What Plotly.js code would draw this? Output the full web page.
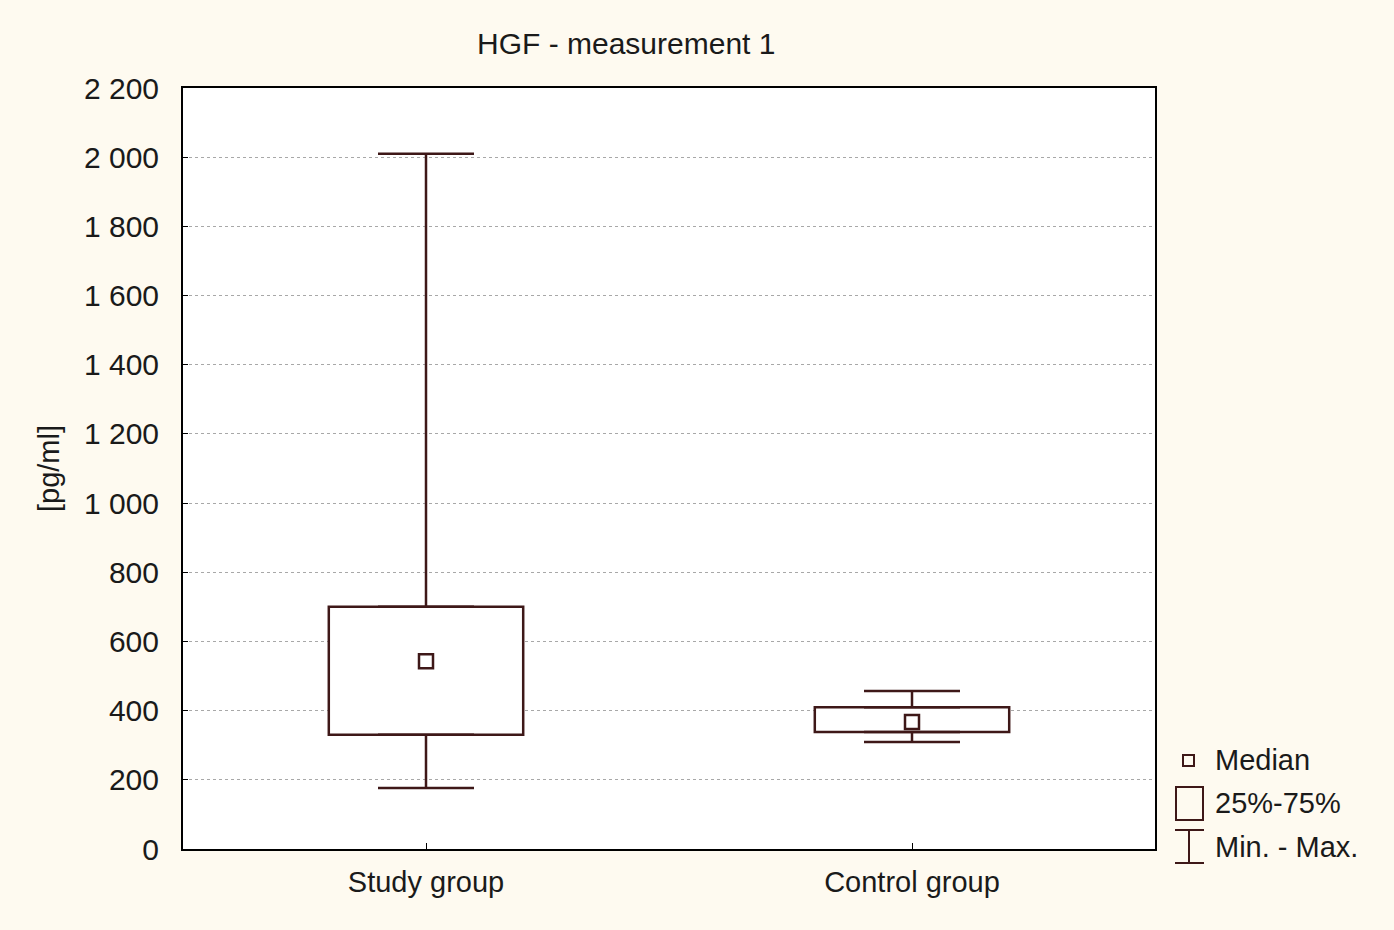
<!DOCTYPE html>
<html>
<head>
<meta charset="utf-8">
<script src="https://cdn.plot.ly/plotly-3.0.1.min.js"></script>
<style>html,body{margin:0;padding:0;background:#fefaf0;}#chart{width:1394px;height:930px;}</style>
</head>
<body>
<div id="chart"></div>
<script>
const categories = ["Study group", "Control group"];
const minValues = [176, 309];
const q1Values = [330, 338];
const medianValues = [543, 367];
const q3Values = [700, 410];
const maxValues = [2010, 457];

const boxColor = "#3e1818";
const fontFam = "Liberation Sans, Arial, sans-serif";

const boxTrace = {
  type: "bar",
  x: categories,
  base: q1Values,
  y: q3Values.map((v, i) => v - q1Values[i]),
  width: 0.4,
  marker: {color: "#ffffff", line: {color: boxColor, width: 2.5}},
  showlegend: false,
  hoverinfo: "skip"
};
const upperWhisker = {
  type: "scatter", mode: "markers",
  x: categories, y: q3Values,
  marker: {size: 1, color: "rgba(0,0,0,0)"},
  error_y: {type: "data", symmetric: false,
    array: maxValues.map((v, i) => v - q3Values[i]),
    arrayminus: q3Values.map(() => 0),
    color: boxColor, thickness: 2.5, width: 48},
  showlegend: false, hoverinfo: "skip"
};
const lowerWhisker = {
  type: "scatter", mode: "markers",
  x: categories, y: q1Values,
  marker: {size: 1, color: "rgba(0,0,0,0)"},
  error_y: {type: "data", symmetric: false,
    array: q1Values.map(() => 0),
    arrayminus: q1Values.map((v, i) => v - minValues[i]),
    color: boxColor, thickness: 2.5, width: 48},
  showlegend: false, hoverinfo: "skip"
};
const medianTrace = {
  type: "scatter", mode: "markers",
  x: categories, y: medianValues,
  marker: {symbol: "square", size: 14, color: "#ffffff", line: {color: boxColor, width: 2.5}},
  showlegend: false, hoverinfo: "skip"
};

function py(pix) { return (849 - pix) / 761; }
function px(pix) { return (pix - 183) / 972; }

const shapes = [
  {type: "rect", xref: "paper", yref: "paper", x0: px(1183), x1: px(1194), y0: py(766), y1: py(755), line: {color: boxColor, width: 2}, fillcolor: "#fefaf0"},
  {type: "rect", xref: "paper", yref: "paper", x0: px(1176), x1: px(1203), y0: py(820), y1: py(787), line: {color: boxColor, width: 2}, fillcolor: "#fefaf0"},
  {type: "line", xref: "paper", yref: "paper", x0: px(1189), x1: px(1189), y0: py(863), y1: py(830), line: {color: boxColor, width: 2}},
  {type: "line", xref: "paper", yref: "paper", x0: px(1175), x1: px(1204), y0: py(830), y1: py(830), line: {color: boxColor, width: 2}},
  {type: "line", xref: "paper", yref: "paper", x0: px(1175), x1: px(1204), y0: py(863), y1: py(863), line: {color: boxColor, width: 2}}
];
const legendTexts = [["Median", 760], ["25%-75%", 803], ["Min. - Max.", 847]];
const annotations = legendTexts.map(([t, y]) => ({
  text: t, xref: "paper", yref: "paper", x: px(1213), y: py(y),
  xanchor: "left", yanchor: "middle", showarrow: false,
  font: {family: fontFam, size: 29, color: "#1a1a1a"}
}));

const layout = {
  width: 1394, height: 930,
  margin: {l: 183, r: 239, t: 88, b: 81},
  paper_bgcolor: "#fefaf0",
  plot_bgcolor: "#ffffff",
  separators: ". ",
  font: {family: fontFam, size: 29, color: "#1a1a1a"},
  title: {text: "HGF - measurement 1", x: 0.456, xanchor: "center", xref: "paper", y: 0.953, yanchor: "middle", font: {family: fontFam, size: 30, color: "#1a1a1a"}},
  xaxis: {
    type: "category", range: [-0.5, 1.5],
    showline: true, linecolor: "#000", linewidth: 2, mirror: true,
    ticks: "inside", ticklen: 6, tickcolor: "#000", tickwidth: 1,
    showgrid: false, ticklabelstandoff: 6,
    tickfont: {family: fontFam, size: 29, color: "#1a1a1a"}
  },
  yaxis: {
    range: [0, 2200], dtick: 200, tick0: 0, separatethousands: true,
    showline: true, linecolor: "#000", linewidth: 2, mirror: true,
    ticks: "inside", ticklen: 5, tickcolor: "#000", tickwidth: 1,
    showgrid: true, gridcolor: "#a8a8a8", griddash: "dot", gridwidth: 1,
    zeroline: false, ticklabelstandoff: 16,
    tickfont: {family: fontFam, size: 30, color: "#1a1a1a"},
    title: {text: "[pg/ml]", standoff: 16, font: {family: fontFam, size: 29, color: "#1a1a1a"}}
  },
  shapes: shapes,
  annotations: annotations,
  showlegend: false,
  bargap: 0
};

Plotly.newPlot("chart", [boxTrace, upperWhisker, lowerWhisker, medianTrace], layout, {displayModeBar: false, staticPlot: true});
</script>
</body>
</html>
